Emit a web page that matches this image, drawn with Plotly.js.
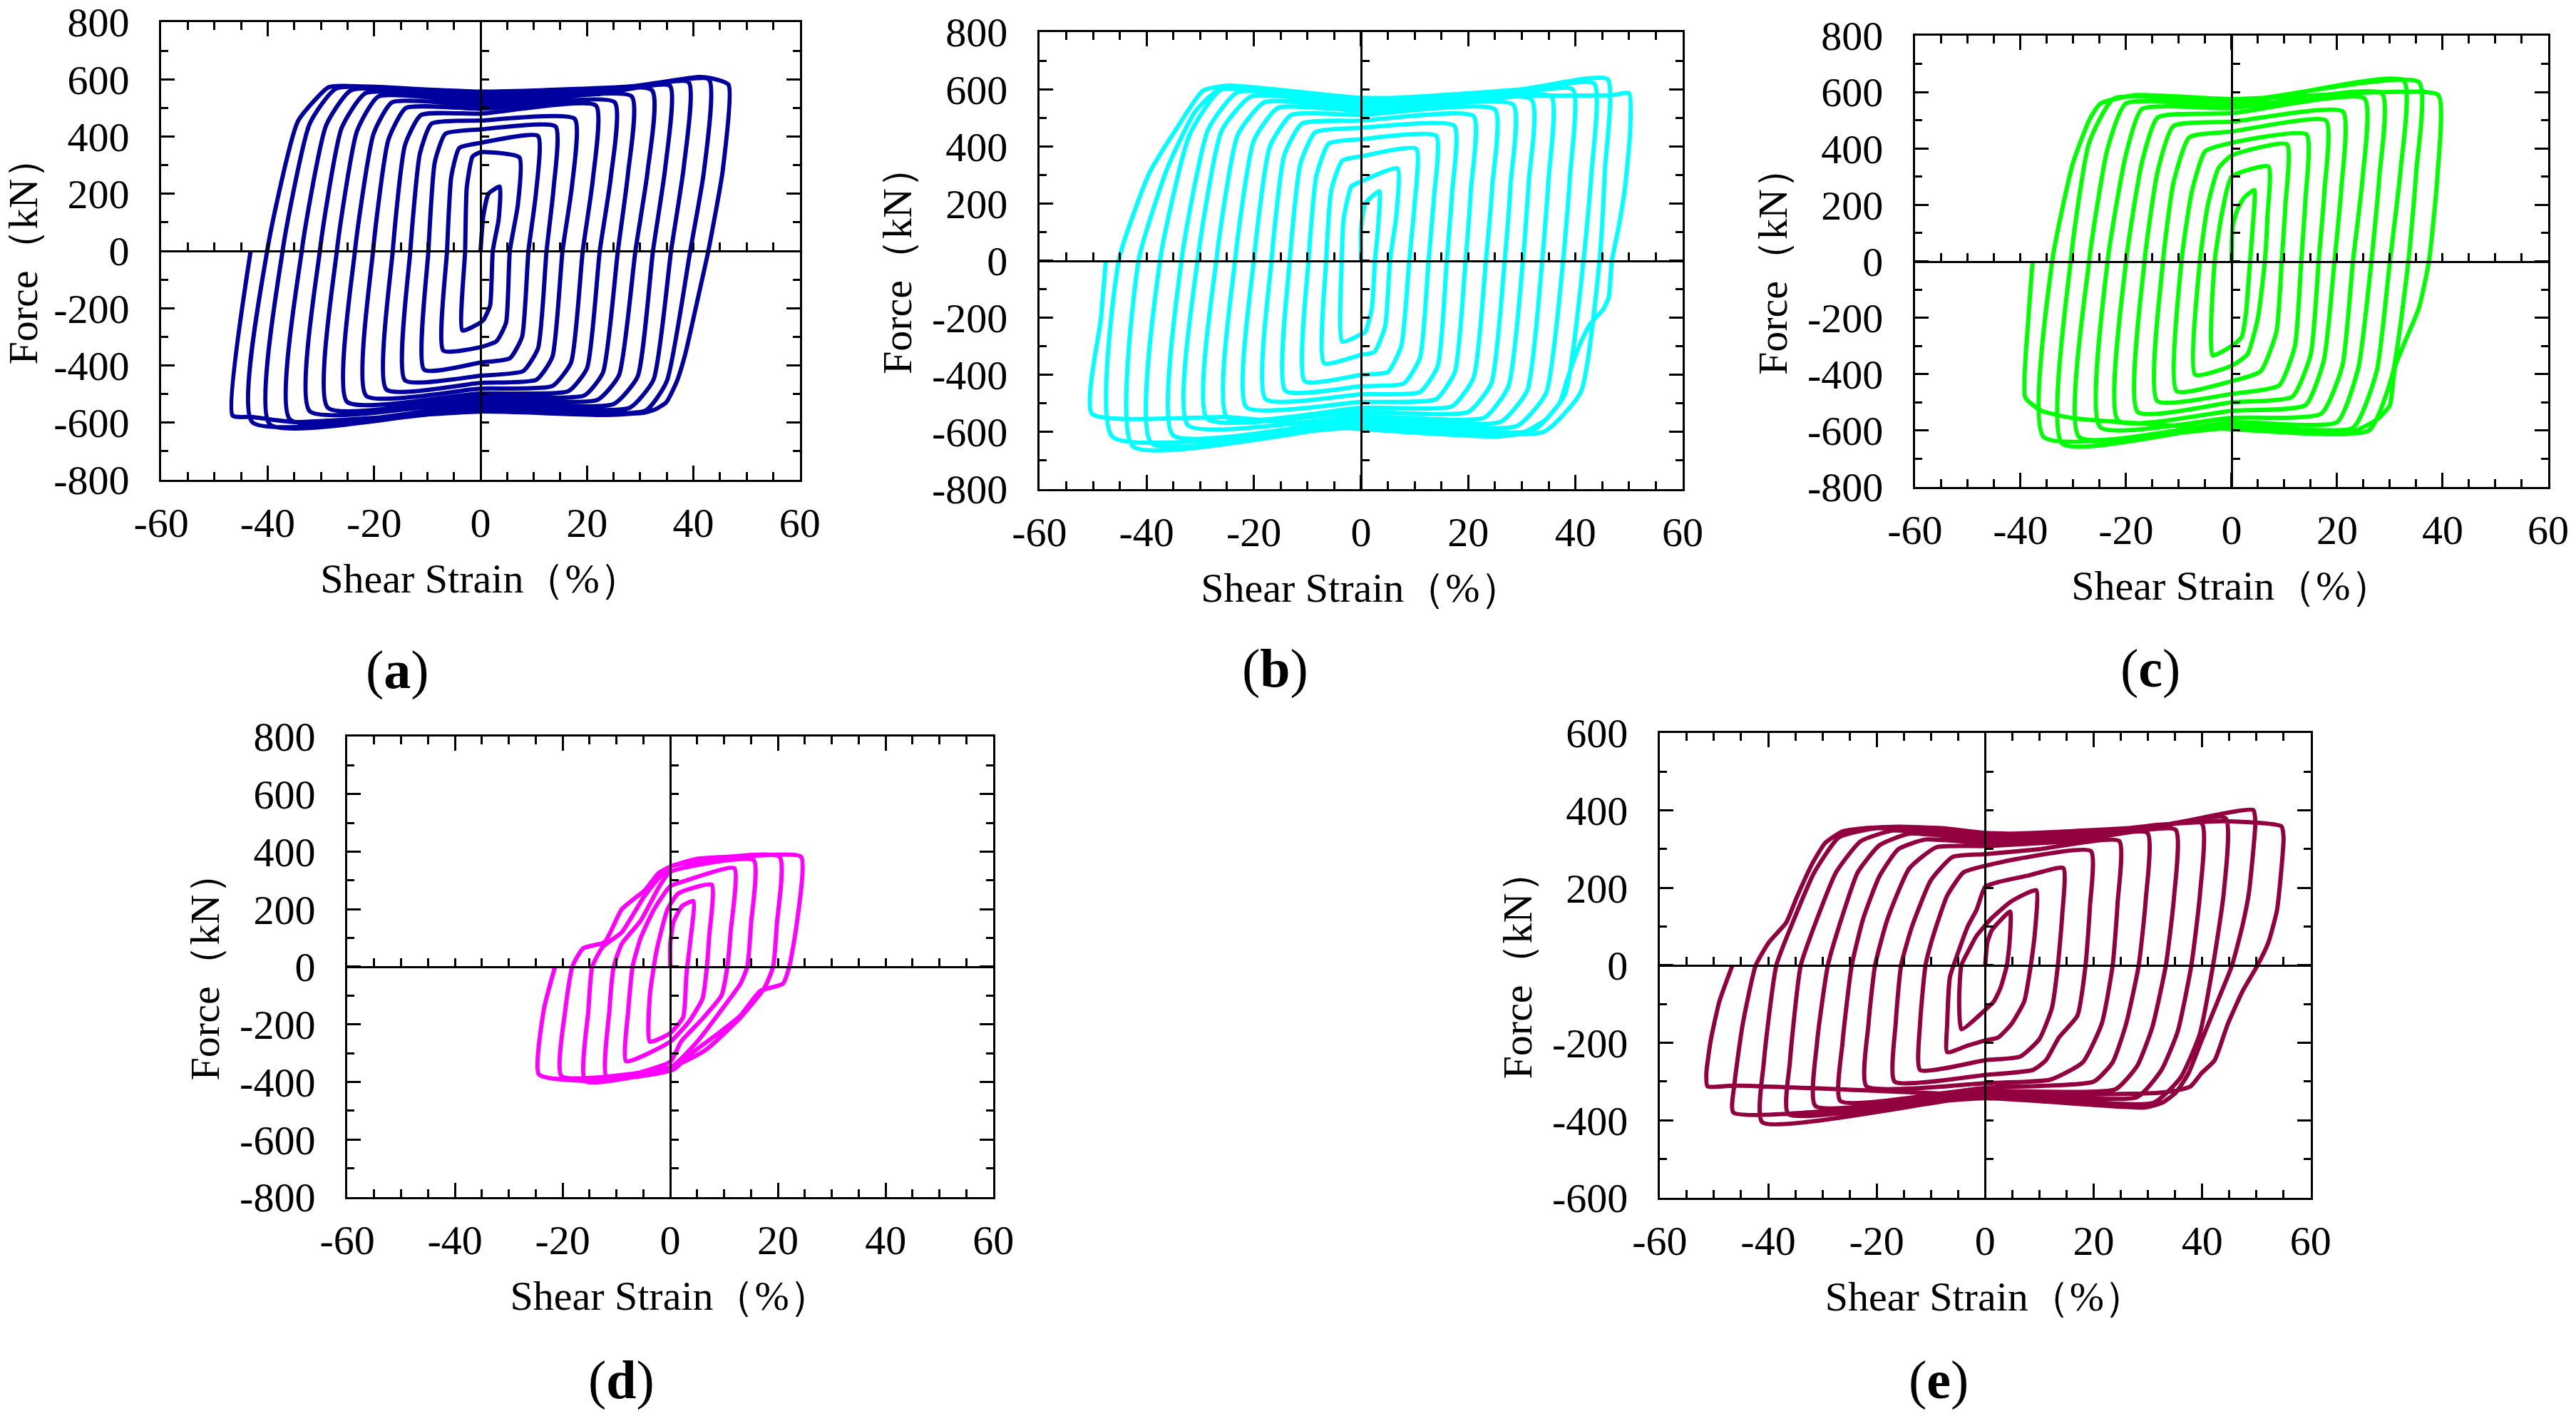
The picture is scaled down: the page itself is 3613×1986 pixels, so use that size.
<!DOCTYPE html>
<html>
<head>
<meta charset="utf-8">
<script src="https://cdn.plot.ly/plotly-3.0.1.min.js"></script>
<style>
  html, body { margin: 0; padding: 0; background: #fff; }
  #chart { width: 3613px; height: 1986px; }
</style>
</head>
<body>
<div id="chart"></div>
<script>
// tick labels
var strainTicks = [-60, -40, -20, 0, 20, 40, 60];
var strainTickText = ['-60', '-40', '-20', '0', '20', '40', '60'];
var forceTicks = [-800, -600, -400, -200, 0, 200, 400, 600, 800];
var forceTickText = ['-800', '-600', '-400', '-200', '0', '200', '400', '600', '800'];
var forceTicksE = [-600, -400, -200, 0, 200, 400, 600];
var forceTickTextE = ['-600', '-400', '-200', '0', '200', '400', '600'];

var panelLetters = ['a', 'b', 'c', 'd', 'e'];
var panelColors = ['#00009E', '#00FFFF', '#00FF00', '#FF00FF', '#930040'];

// hysteresis paths, [shear strain %, force kN], one row per cycle
var pathA = [
  [0, 0], [0.5, 120], [1.5, 200],
  [3.6, 225], [3.4, 110], [2.3, 0], [1.8, -190], [0.6, -240], [0, -250], [-3.4, -278], [-2.9, 0], [-2.6, 220], [-1.5, 330], [0, 345],
  [7.3, 327], [7.0, 160], [5.5, 0], [4.8, -250], [3.0, -315], [0, -336], [-7.0, -348], [-6.3, 0], [-5.5, 260], [-4.0, 360], [0, 378],
  [10.8, 402], [10.4, 200], [9.0, 0], [7.8, -300], [5.5, -375], [0, -390], [-10.6, -415], [-9.8, 0], [-8.6, 310], [-6.6, 410], [0, 425],
  [14.1, 435], [13.7, 215], [12.4, 0], [10.8, -340], [8.0, -420], [0, -436], [-14.2, -452], [-13.2, 0], [-11.4, 340], [-9.2, 445], [0, 456],
  [17.7, 462], [17.2, 230], [15.4, 0], [13.5, -370], [10.5, -450], [0, -461], [-17.7, -484], [-16.5, 0], [-14.2, 370], [-11.2, 475], [0, 480],
  [21.7, 508], [21.1, 250], [19.2, 0], [17.0, -390], [13.5, -472], [0, -481], [-21.5, -506], [-20.2, 0], [-17.3, 390], [-14.0, 500], [0, 497],
  [25.2, 520], [24.5, 260], [22.4, 0], [20.0, -410], [16.5, -490], [0, -498], [-25.1, -527], [-23.6, 0], [-20.1, 410], [-16.6, 520], [0, 510],
  [28.4, 540], [27.7, 270], [25.8, 0], [23.0, -425], [19.5, -505], [0, -510], [-28.7, -548], [-27.0, 0], [-23.2, 420], [-19.2, 540], [0, 522],
  [32.2, 562], [31.4, 280], [29.1, 0], [26.0, -435], [22.0, -520], [0, -522], [-32.1, -560], [-30.2, 0], [-26.1, 430], [-21.6, 552], [0, 535], [22, 548],
  [35.6, 577], [34.7, 290], [32.4, 0], [29.5, -440], [25.0, -535], [0, -535], [-35.8, -589], [-33.6, 0], [-29.0, 440], [-24.3, 562], [0, 545], [25, 560],
  [39.1, 590], [38.2, 295], [35.8, 0], [32.5, -450], [28.0, -548], [0, -545], [-39.6, -606], [-37.2, 0], [-32.1, 445], [-27.1, 568], [0, 552], [28, 567],
  [42.9, 600], [42.0, 281], [39.4, 0], [35.0, -455], [31.0, -558], [0, -553], [-42.9, -598], [-40.1, 0], [-34.3, 454], [-28.6, 572], [-25.8, 577], [0, 557], [28, 575],
  [40.9, 608], [43.3, 604], [46.6, 581], [45.5, 280], [42.8, 0], [41.0, -152], [38.5, -358], [36.9, -455], [34.9, -529], [32.8, -554], [30.4, -566], [23.1, -573], [0, -561], [-35.0, -598], [-43.0, -580], [-46.6, -575], [-43.2, 0]
];

var pathB = [
  [0, 0], [0, 110], [0.8, 200],
  [3.4, 243], [3.2, 120], [2.6, 0], [2.0, -170], [0.8, -250], [0, -258], [-3.5, -284], [-3.6, 0], [-3.2, 150], [-1.8, 260], [0, 277],
  [6.8, 323], [6.6, 160], [5.4, 0], [4.5, -230], [2.5, -320], [0, -330], [-6.9, -359], [-6.5, 0], [-5.5, 250], [-3.5, 350], [0, 365],
  [10.3, 392], [10.0, 200], [9.0, 0], [7.5, -300], [5.0, -390], [0, -400], [-10.5, -422], [-9.8, 0], [-8.3, 300], [-6.0, 410], [0, 425],
  [14.0, 437], [13.6, 220], [12.6, 0], [11.0, -340], [8.0, -430], [0, -440], [-14.1, -456], [-13.3, 0], [-11.3, 340], [-8.5, 450], [0, 465],
  [17.4, 472], [17.0, 240], [16.0, 0], [14.3, -370], [11.0, -460], [0, -468], [-17.8, -485], [-16.7, 0], [-14.3, 370], [-11.0, 480], [0, 490],
  [21.0, 506], [20.5, 250], [19.5, 0], [17.5, -390], [14.0, -485], [0, -495], [-21.4, -513], [-20.0, 0], [-17.0, 400], [-13.0, 510], [0, 510],
  [25.0, 529], [24.5, 265], [23.3, 0], [21.0, -410], [17.0, -510], [0, -515], [-25.0, -548], [-23.5, 0], [-20.0, 420], [-15.5, 535], [0, 525],
  [28.4, 546], [27.9, 270], [26.8, 0], [24.3, -430], [20.0, -530], [0, -530], [-28.7, -553], [-27.0, 0], [-23.0, 440], [-18.0, 555], [0, 535],
  [31.8, 564], [31.3, 280], [30.2, 0], [27.5, -440], [23.0, -550], [0, -545], [-32.3, -576], [-30.5, 0], [-26.0, 455], [-20.5, 575], [0, 545], [20, 555],
  [35.5, 575], [35.0, 290], [33.8, 0], [31.0, -455], [26.0, -565], [0, -555], [-35.1, -611], [-33.5, 0], [-28.5, 460], [-23.0, 590], [0, 553], [24, 570],
  [39.5, 600], [39.0, 300], [37.7, 0], [34.5, -465], [29.0, -580], [0, -565], [-39.1, -639], [-37.5, 0], [-32.0, 440], [-26.0, 600], [0, 560], [27, 585],
  [43.5, 620], [43.0, 310], [41.5, 0], [38.0, -470], [32.0, -595], [0, -575], [-42.6, -650], [-41.5, 0], [-36.0, 330], [-31.0, 520], [-26.5, 598], [0, 565], [30, 600],
  [46.0, 635], [45.5, 320], [44.5, 0], [41.0, -460], [34.0, -600], [0, -583], [-46.4, -616], [-45.2, 0], [-39.5, 306], [-34.3, 466], [-29.5, 595], [-24.6, 613], [0, 570], [30, 578],
  [46.8, 579], [50.0, 586], [50.2, 450], [49.2, 249], [48.0, 111], [46.8, 0], [46.2, -129], [45.2, -170], [42.8, -221], [41.2, -278], [39.5, -359], [38.3, -427], [37.1, -496], [34.3, -559], [29.9, -605], [25.0, -616], [0, -590], [-25.0, -548], [-50.2, -536], [-48.5, -200], [-47.6, 0]
];

var pathC = [
  [0, 0], [0.2, 125], [1.1, 183], [2.3, 224],
  [4.3, 253], [4.0, 120], [3.5, 0], [2.7, -188], [1.9, -269], [0, -300], [-3.6, -333], [-3.2, 0], [-1.7, 183], [0, 300],
  [7.0, 336], [6.8, 160], [6.3, 0], [5.0, -200], [3.0, -330], [0, -370], [-6.9, -402], [-6.0, 0], [-4.5, 200], [-2.5, 330], [0, 375],
  [10.5, 415], [10.2, 200], [9.5, 0], [8.5, -250], [5.5, -390], [0, -425], [-10.4, -460], [-9.5, 0], [-7.5, 250], [-5.0, 390], [0, 420],
  [14.2, 450], [14.0, 220], [13.2, 0], [12.0, -300], [9.0, -440], [0, -470], [-14.1, -495], [-13.0, 0], [-11.0, 280], [-8.0, 440], [0, 460],
  [17.9, 499], [17.6, 250], [16.5, 0], [15.0, -330], [11.5, -480], [0, -500], [-17.8, -534], [-16.5, 0], [-14.0, 320], [-11.0, 480], [0, 495],
  [21.1, 531], [20.8, 260], [19.5, 0], [17.5, -350], [14.0, -510], [0, -530], [-21.5, -565], [-20.0, 0], [-17.0, 350], [-14.0, 510], [0, 525],
  [25.2, 577], [24.8, 290], [23.0, 0], [21.0, -370], [17.0, -540], [0, -555], [-24.9, -588], [-23.5, 0], [-20.0, 380], [-17.0, 540], [0, 543],
  [28.5, 595], [28.0, 300], [26.5, 0], [24.0, -380], [20.0, -570], [0, -570], [-28.9, -623], [-27.0, 0], [-23.5, 400], [-20.0, 560], [0, 555],
  [32.6, 641], [32.0, 320], [30.0, 0], [27.5, -390], [23.0, -590], [0, -580], [-32.1, -646], [-30.5, 0], [-27.0, 420], [-22.3, 577], [0, 565],
  [35.5, 635], [35.0, 320], [33.5, 0], [30.5, -400], [26.0, -600], [0, -590], [-35.6, -623], [-34.0, 0], [-30.1, 346], [-26.8, 508], [-24.8, 560], [-18.2, 589], [0, 575], [28, 600],
  [39.2, 589], [39.0, 300], [37.4, 0], [35.5, -165], [31.0, -373], [30.0, -510], [27.7, -559], [22.0, -611], [0, -595], [-30.0, -556], [-36.0, -530], [-39.1, -483], [-38.5, -200], [-37.7, 0]
];

var pathD = [
  [0, 0], [0, 80], [0.6, 155], [2.2, 211],
  [4.3, 228], [3.7, 86], [3.0, -27], [2.4, -175], [0, -230], [-3.8, -260], [-3.8, -100], [-2.5, 60], [-0.5, 200], [1.5, 255],
  [7.7, 285], [7.2, 100], [6.8, 0], [6.0, -110], [3.5, -190], [0, -260], [-8.2, -328], [-7.8, -150], [-7.0, 0], [-5.5, 100], [-3.0, 200], [0, 280], [3.0, 300],
  [11.9, 342], [11.2, 120], [10.6, 0], [9.5, -100], [6.0, -180], [2.0, -260], [0, -330], [-11.8, -385], [-11.3, -150], [-10.5, 0], [-9.0, 80], [-5.5, 160], [-2.0, 280], [0, 330],
  [15.5, 370], [15.0, 150], [14.3, 0], [13.0, -60], [9.5, -150], [5.0, -260], [0, -350], [-15.8, -397], [-15.2, -150], [-14.5, 0], [-12.5, 70], [-9.0, 120], [-5.0, 240], [-2.5, 300], [0, 348],
  [20.3, 382], [19.8, 150], [19.1, 0], [17.5, -73], [13.1, -175], [6.5, -290], [0, -350], [-20.2, -380], [-19.5, -150], [-18.2, 0], [-16.2, 64], [-12.2, 86], [-9.0, 200], [-4.6, 268], [-2.2, 325], [0, 348], [5.0, 375], [15.0, 385],
  [24.3, 382], [23.5, 150], [22.1, 0], [20.9, -59], [16.7, -84], [13.0, -170], [9.0, -230], [4.0, -300], [0.6, -357], [-7.4, -385], [-15.4, -397], [-24.4, -374], [-23.5, -150], [-21.4, 0]
];

var pathE = [
  [0, 0], [0.4, 59], [1.2, 90], [2.4, 110],
  [4.6, 139], [4.5, 60], [4.0, 0], [2.8, -59], [1.6, -93], [0, -115], [-4.4, -165], [-4.8, -93], [-4.4, 0], [-3.0, 40], [-1.6, 76], [1.2, 122], [4.8, 165],
  [9.4, 194], [9.2, 90], [8.4, 0], [7.2, -93], [4.8, -152], [2.4, -186], [0, -194], [-3.2, -207], [-7.0, -224], [-7.0, -150], [-6.5, -30], [-5.2, 25], [-3.2, 101], [-1.6, 143], [0, 203], [2.4, 215], [8.0, 232],
  [14.4, 251], [14.2, 130], [13.4, 0], [12.3, -110], [10.0, -190], [6.5, -235], [0, -245], [-12.0, -270], [-12.0, -150], [-11.0, 0], [-9.5, 80], [-7.0, 180], [-4.0, 240], [0, 257], [6.0, 275],
  [19.5, 295], [19.3, 150], [18.5, 0], [17.0, -130], [13.6, -186], [11.2, -245], [8.8, -270], [0, -283], [-16.7, -300], [-16.5, -150], [-15.5, 0], [-13.5, 100], [-10.0, 220], [-6.0, 280], [0, 287], [10.0, 300],
  [24.7, 321], [24.4, 160], [23.5, 0], [21.5, -150], [18.0, -250], [12.0, -295], [0, -304], [-21.9, -312], [-21.5, -150], [-20.3, 0], [-18.0, 120], [-14.0, 250], [-9.0, 305], [0, 308], [15.0, 320],
  [29.9, 342], [29.6, 170], [28.3, 0], [26.0, -150], [23.5, -250], [20.0, -300], [0, -316], [-26.7, -350], [-26.3, -200], [-24.6, 0], [-22.5, 120], [-19.5, 230], [-16.0, 300], [-11.0, 325], [0, 316], [20.0, 330],
  [35.1, 350], [34.8, 175], [33.3, 0], [30.8, -160], [28.0, -260], [24.0, -320], [0, -325], [-31.3, -363], [-31.0, -200], [-29.0, 0], [-26.5, 120], [-23.5, 240], [-19.5, 310], [-14.0, 340], [0, 325], [24.0, 340],
  [39.9, 367], [39.6, 185], [38.0, 0], [35.5, -170], [32.5, -270], [28.0, -340], [0, -331], [-36.3, -384], [-36.0, -250], [-34.0, 0], [-31.0, 120], [-27.5, 240], [-23.0, 320], [-17.0, 348], [0, 333], [28.0, 350],
  [44.3, 380], [44.0, 190], [42.0, 0], [39.5, -180], [36.0, -290], [31.0, -355], [0, -337], [-41.1, -405], [-40.8, -250], [-38.5, 0], [-35.5, 110], [-31.5, 240], [-27.0, 330], [-20.0, 354], [0, 338], [32.0, 360],
  [49.4, 401], [49.8, 371], [48.6, 186], [47.4, 101], [45.5, 0], [43.1, -84], [39.9, -194], [37.5, -278], [35.1, -329], [32.7, -354], [29.5, -367], [0, -343], [-46.4, -380], [-46.2, -304], [-44.7, -152], [-42.3, 0], [-39.9, 59], [-36.7, 110], [-34.7, 177], [-31.9, 262], [-29.5, 316], [-26.3, 346], [-22.3, 354], [-16.0, 358], [-8.0, 354], [0, 342], [16.0, 338], [32.0, 363], [44.0, 372],
  [54.6, 359], [55.0, 329], [53.8, 143], [52.2, 59], [50.2, 0], [47.4, -68], [44.7, -152], [42.3, -245], [39.9, -278], [37.9, -312], [35.9, -321], [31.9, -329], [0, -335], [-30.0, -318], [-46.0, -310], [-51.2, -312], [-51.4, -278], [-50.6, -194], [-49.0, -93], [-46.6, 0]
];

var paths = [pathA, pathB, pathC, pathD, pathE];

// plot boxes (paper fractions) and label spots
var boxes = [
  { x: [0.0626, 0.3105], y: [0.6611, 0.9844], lx: 0.1542, ly: 0.5267 },
  { x: [0.4035, 0.6532], y: [0.6546, 0.9773], lx: 0.4949, ly: 0.5277 },
  { x: [0.7434, 0.9892], y: [0.6561, 0.9748], lx: 0.8348, ly: 0.5277 },
  { x: [0.1348, 0.3856], y: [0.1546, 0.4799], lx: 0.2411, ly: 0.0252 },
  { x: [0.6443, 0.8970], y: [0.1541, 0.4824], lx: 0.7526, ly: 0.0252 }
];

var serif = 'Liberation Serif, Times New Roman, serif';
var data = [];
var layout = {
  width: 3613,
  height: 1986,
  margin: { l: 0, r: 0, t: 0, b: 0 },
  paper_bgcolor: '#ffffff',
  plot_bgcolor: 'rgba(0,0,0,0)',
  showlegend: false,
  font: { family: serif, size: 58, color: '#000' },
  annotations: []
};

paths.forEach(function (path, i) {
  var n = i + 1;
  var id = n === 1 ? '' : String(n);
  var zid = String(n + 5);
  var box = boxes[i];
  var isE = i === 4;
  var yTicks = isE ? forceTicksE : forceTicks;
  var yText = isE ? forceTickTextE : forceTickText;
  var yRange = isE ? [-600, 600] : [-800, 800];

  data.push({
    x: path.map(function (p) { return p[0]; }),
    y: path.map(function (p) { return p[1]; }),
    xaxis: 'x' + id,
    yaxis: 'y' + id,
    mode: 'lines',
    line: { color: panelColors[i], width: 6, shape: 'spline', smoothing: 0.5 },
    hoverinfo: 'skip'
  });
  // empty trace so the cross-hair axes through the origin get drawn
  data.push({ x: [], y: [], xaxis: 'x' + zid, yaxis: 'y' + zid, mode: 'lines', hoverinfo: 'skip' });

  layout['xaxis' + id] = {
    domain: box.x, anchor: 'y' + id, range: [-60, 60],
    tickmode: 'array', tickvals: strainTicks, ticktext: strainTickText,
    ticks: 'inside', ticklen: 20, tickwidth: 3, tickcolor: '#000',
    minor: { tickmode: 'linear', tick0: 0, dtick: 5, ticks: 'inside', ticklen: 11, tickwidth: 3, tickcolor: '#000' },
    showline: true, linewidth: 3, linecolor: '#000', mirror: 'allticks',
    showgrid: false, zeroline: false, automargin: false, fixedrange: true,
    tickfont: { family: serif, size: 58 }, ticklabelstandoff: 7, ticklabeloverflow: 'allow',
    title: { text: 'Shear Strain（%）', font: { family: serif, size: 58 }, standoff: 26 }
  };
  layout['yaxis' + id] = {
    domain: box.y, anchor: 'x' + id, range: yRange,
    tickmode: 'array', tickvals: yTicks, ticktext: yText,
    ticks: 'inside', ticklen: 19, tickwidth: 3, tickcolor: '#000',
    minor: { tickmode: 'linear', tick0: 0, dtick: 100, ticks: 'inside', ticklen: 10, tickwidth: 3, tickcolor: '#000' },
    showline: true, linewidth: 3, linecolor: '#000', mirror: 'allticks',
    showgrid: false, zeroline: false, automargin: false, fixedrange: true,
    tickfont: { family: serif, size: 58 }, ticklabelstandoff: 30, ticklabeloverflow: 'allow',
    title: { text: 'Force（kN）', font: { family: serif, size: 58 }, standoff: 10 }
  };
  layout['xaxis' + zid] = {
    overlaying: 'x' + id, anchor: 'free', position: (box.y[0] + box.y[1]) / 2, range: [-60, 60],
    tickmode: 'array', tickvals: strainTicks, showticklabels: false,
    ticks: 'inside', ticklen: 11, tickwidth: 3, tickcolor: '#000',
    minor: { tickmode: 'linear', tick0: 0, dtick: 5, ticks: 'inside', ticklen: 11, tickwidth: 3, tickcolor: '#000' },
    showline: true, linewidth: 3, linecolor: '#000',
    showgrid: false, zeroline: false, fixedrange: true
  };
  layout['yaxis' + zid] = {
    overlaying: 'y' + id, anchor: 'free', position: (box.x[0] + box.x[1]) / 2, range: yRange, side: 'left',
    tickmode: 'array', tickvals: yTicks, showticklabels: false,
    ticks: 'inside', ticklen: 10, tickwidth: 3, tickcolor: '#000',
    minor: { tickmode: 'linear', tick0: 0, dtick: 100, ticks: 'inside', ticklen: 10, tickwidth: 3, tickcolor: '#000' },
    showline: true, linewidth: 3, linecolor: '#000',
    showgrid: false, zeroline: false, fixedrange: true
  };

  layout.annotations.push({
    xref: 'paper', yref: 'paper', x: box.lx, y: box.ly,
    xanchor: 'center', yanchor: 'middle', showarrow: false,
    text: '(<b>' + panelLetters[i] + '</b>)',
    font: { family: serif, size: 76, color: '#000' }
  });
});

Plotly.newPlot('chart', data, layout, { staticPlot: true });
</script>
</body>
</html>
